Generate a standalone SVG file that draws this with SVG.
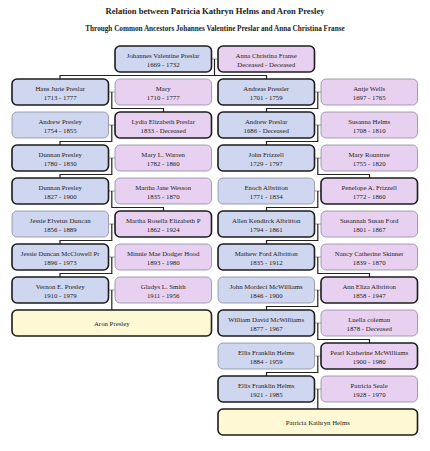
<svg xmlns="http://www.w3.org/2000/svg" width="430" height="451" viewBox="0 0 430 451">
<style>
text{font-family:"Liberation Serif","Times New Roman",serif;fill:#222;text-anchor:middle}
.h1{font-size:8.6px;font-weight:bold}
.h2{font-size:7.2px;font-weight:bold}
.n{font-size:6.8px}
.bl{fill:#cfd6f0}
.pk{fill:#e8d1f0}
.ye{fill:#fef9d4}
.k{stroke:#1c1c1c;stroke-width:1.6}
.g{stroke:#8c8c9c;stroke-width:0.8}
.cl{fill:none;stroke:#9a9a9a;stroke-width:1}
.dl{fill:none;stroke:#222;stroke-width:1.2}
</style>
<rect width="430" height="451" fill="#fff"/>
<text class="h1" x="215" y="14">Relation between Patricia Kathryn Helms and Aron Presley</text>
<text class="h2" x="215" y="31">Through Common Ancestors Johannes Valentine Preslar and Anna Christina Franse</text>

<g id="connectors">
<path class="cl" d="M211.5 59H218"/>
<path class="dl" d="M214.5 59V75.5M60 79V75.5H266.5V79"/>
<path class="cl" d="M108.5 92H115M108.5 125H115M108.5 158H115M108.5 191H115M108.5 224H115M108.5 257H115M108.5 290H115"/>
<path class="dl" d="M111.8 92V108.5H163.5V112"/>
<path class="dl" d="M111.8 125V141.5H60V145"/>
<path class="dl" d="M111.8 158V174.5H60V178"/>
<path class="dl" d="M111.8 191V207.5H163.5V211"/>
<path class="dl" d="M111.8 224V240.5H60V244"/>
<path class="dl" d="M111.8 257V273.5H60V277"/>
<path class="dl" d="M111.8 290V310"/>
<path class="cl" d="M314.5 92H321M314.5 125H321M314.5 158H321M314.5 191H321M314.5 224H321M314.5 257H321M314.5 290H321M314.5 323H321M314.5 356H321M314.5 389H321"/>
<path class="dl" d="M317.8 92V108.5H266.5V112"/>
<path class="dl" d="M317.8 125V141.5H266.5V145"/>
<path class="dl" d="M317.8 158V174.5H369.5V178"/>
<path class="dl" d="M317.8 191V207.5H266.5V211"/>
<path class="dl" d="M317.8 224V240.5H266.5V244"/>
<path class="dl" d="M317.8 257V273.5H369.5V277"/>
<path class="dl" d="M317.8 290V306.5H266.5V310"/>
<path class="dl" d="M317.8 323V339.5H369.5V343"/>
<path class="dl" d="M317.8 356V372.5H266.5V376"/>
<path class="dl" d="M317.8 389V409"/>
</g>

<g id="johannes"><rect class="bl k" x="115" y="46" width="96.5" height="26" rx="5"/><text class="n" x="163.2" y="57.5">Johannes Valentine Preslar</text><text class="n" x="163.2" y="66.5">1669 - 1732</text></g>
<g id="anna"><rect class="pk k" x="218" y="46" width="96.5" height="26" rx="5"/><text class="n" x="266.2" y="57.5">Anna Christina Franse</text><text class="n" x="266.2" y="66.5">Deceased - Deceased</text></g>

<g id="hans"><rect class="bl k" x="12" y="79" width="96.5" height="26" rx="5"/><text class="n" x="60.2" y="90.5">Hans Jurie Preslar</text><text class="n" x="60.2" y="99.5">1713 - 1777</text></g>
<g id="mary"><rect class="pk g" x="115" y="79" width="96.5" height="26" rx="5"/><text class="n" x="163.2" y="90.5">Mary</text><text class="n" x="163.2" y="99.5">1710 - 1777</text></g>
<g id="andrew-presley"><rect class="bl g" x="12" y="112" width="96.5" height="26" rx="5"/><text class="n" x="60.2" y="123.5">Andrew Presley</text><text class="n" x="60.2" y="132.5">1754 - 1855</text></g>
<g id="lydia"><rect class="pk k" x="115" y="112" width="96.5" height="26" rx="5"/><text class="n" x="163.2" y="123.5">Lydia Elizabeth Preslar</text><text class="n" x="163.2" y="132.5">1833 - Deceased</text></g>
<g id="dunnan1"><rect class="bl k" x="12" y="145" width="96.5" height="26" rx="5"/><text class="n" x="60.2" y="156.5">Dunnan Presley</text><text class="n" x="60.2" y="165.5">1780 - 1830</text></g>
<g id="mary-warren"><rect class="pk g" x="115" y="145" width="96.5" height="26" rx="5"/><text class="n" x="163.2" y="156.5">Mary L. Warren</text><text class="n" x="163.2" y="165.5">1782 - 1860</text></g>
<g id="dunnan2"><rect class="bl k" x="12" y="178" width="96.5" height="26" rx="5"/><text class="n" x="60.2" y="189.5">Dunnan Presley</text><text class="n" x="60.2" y="198.5">1827 - 1900</text></g>
<g id="martha-wesson"><rect class="pk g" x="115" y="178" width="96.5" height="26" rx="5"/><text class="n" x="163.2" y="189.5">Martha Jane Wesson</text><text class="n" x="163.2" y="198.5">1835 - 1870</text></g>
<g id="jessie-elvetus"><rect class="bl g" x="12" y="211" width="96.5" height="26" rx="5"/><text class="n" x="60.2" y="222.5">Jessie Elvetus Duncan</text><text class="n" x="60.2" y="231.5">1856 - 1889</text></g>
<g id="martha-rosella"><rect class="pk k" x="115" y="211" width="96.5" height="26" rx="5"/><text class="n" x="163.2" y="222.5">Martha Rosella Elizabeth P</text><text class="n" x="163.2" y="231.5">1862 - 1924</text></g>
<g id="jessie-duncan"><rect class="bl k" x="12" y="244" width="96.5" height="26" rx="5"/><text class="n" x="60.2" y="255.5">Jessie Duncan McClowell Pr</text><text class="n" x="60.2" y="264.5">1896 - 1973</text></g>
<g id="minnie"><rect class="pk g" x="115" y="244" width="96.5" height="26" rx="5"/><text class="n" x="163.2" y="255.5">Minnie Mae Dodger Hood</text><text class="n" x="163.2" y="264.5">1893 - 1980</text></g>
<g id="vernon"><rect class="bl k" x="12" y="277" width="96.5" height="26" rx="5"/><text class="n" x="60.2" y="288.5">Vernon E. Presley</text><text class="n" x="60.2" y="297.5">1910 - 1979</text></g>
<g id="gladys"><rect class="pk g" x="115" y="277" width="96.5" height="26" rx="5"/><text class="n" x="163.2" y="288.5">Gladys L. Smith</text><text class="n" x="163.2" y="297.5">1911 - 1956</text></g>
<g id="aron"><rect class="ye k" x="12" y="310" width="199.5" height="26" rx="5"/><text class="n" x="111.8" y="325.5">Aron Presley</text></g>

<g id="andreas"><rect class="bl k" x="218" y="79" width="96.5" height="26" rx="5"/><text class="n" x="266.2" y="90.5">Andreas Pressler</text><text class="n" x="266.2" y="99.5">1701 - 1759</text></g>
<g id="antje"><rect class="pk g" x="321" y="79" width="96.5" height="26" rx="5"/><text class="n" x="369.2" y="90.5">Antje Wells</text><text class="n" x="369.2" y="99.5">1697 - 1765</text></g>
<g id="andrew-preslar"><rect class="bl k" x="218" y="112" width="96.5" height="26" rx="5"/><text class="n" x="266.2" y="123.5">Andrew Preslar</text><text class="n" x="266.2" y="132.5">1686 - Deceased</text></g>
<g id="susanna"><rect class="pk g" x="321" y="112" width="96.5" height="26" rx="5"/><text class="n" x="369.2" y="123.5">Susanna Helms</text><text class="n" x="369.2" y="132.5">1708 - 1810</text></g>
<g id="john-frizzell"><rect class="bl k" x="218" y="145" width="96.5" height="26" rx="5"/><text class="n" x="266.2" y="156.5">John Frizzell</text><text class="n" x="266.2" y="165.5">1729 - 1797</text></g>
<g id="mary-rountree"><rect class="pk g" x="321" y="145" width="96.5" height="26" rx="5"/><text class="n" x="369.2" y="156.5">Mary Rountree</text><text class="n" x="369.2" y="165.5">1755 - 1820</text></g>
<g id="enoch"><rect class="bl g" x="218" y="178" width="96.5" height="26" rx="5"/><text class="n" x="266.2" y="189.5">Enoch Albritton</text><text class="n" x="266.2" y="198.5">1771 - 1834</text></g>
<g id="penelope"><rect class="pk k" x="321" y="178" width="96.5" height="26" rx="5"/><text class="n" x="369.2" y="189.5">Penelope A. Frizzell</text><text class="n" x="369.2" y="198.5">1772 - 1860</text></g>
<g id="allen"><rect class="bl k" x="218" y="211" width="96.5" height="26" rx="5"/><text class="n" x="266.2" y="222.5">Allen Kendirck Albritton</text><text class="n" x="266.2" y="231.5">1794 - 1861</text></g>
<g id="susannah"><rect class="pk g" x="321" y="211" width="96.5" height="26" rx="5"/><text class="n" x="369.2" y="222.5">Susannah Susan Ford</text><text class="n" x="369.2" y="231.5">1801 - 1867</text></g>
<g id="mathew"><rect class="bl k" x="218" y="244" width="96.5" height="26" rx="5"/><text class="n" x="266.2" y="255.5">Mathew Ford Albritton</text><text class="n" x="266.2" y="264.5">1835 - 1912</text></g>
<g id="nancy"><rect class="pk g" x="321" y="244" width="96.5" height="26" rx="5"/><text class="n" x="369.2" y="255.5">Nancy Catherine Skinner</text><text class="n" x="369.2" y="264.5">1839 - 1870</text></g>
<g id="john-mordeci"><rect class="bl g" x="218" y="277" width="96.5" height="26" rx="5"/><text class="n" x="266.2" y="288.5">John Mordeci McWilliams</text><text class="n" x="266.2" y="297.5">1846 - 1900</text></g>
<g id="ann-eliza"><rect class="pk k" x="321" y="277" width="96.5" height="26" rx="5"/><text class="n" x="369.2" y="288.5">Ann Eliza Albritton</text><text class="n" x="369.2" y="297.5">1858 - 1947</text></g>
<g id="william"><rect class="bl k" x="218" y="310" width="96.5" height="26" rx="5"/><text class="n" x="266.2" y="321.5">William David McWilliams</text><text class="n" x="266.2" y="330.5">1877 - 1967</text></g>
<g id="luella"><rect class="pk g" x="321" y="310" width="96.5" height="26" rx="5"/><text class="n" x="369.2" y="321.5">Luella coleman</text><text class="n" x="369.2" y="330.5">1878 - Deceased</text></g>
<g id="ellis1"><rect class="bl g" x="218" y="343" width="96.5" height="26" rx="5"/><text class="n" x="266.2" y="354.5">Ellis Franklin Helms</text><text class="n" x="266.2" y="363.5">1884 - 1959</text></g>
<g id="pearl"><rect class="pk k" x="321" y="343" width="96.5" height="26" rx="5"/><text class="n" x="369.2" y="354.5">Pearl Katherine McWilliams</text><text class="n" x="369.2" y="363.5">1900 - 1980</text></g>
<g id="ellis2"><rect class="bl k" x="218" y="376" width="96.5" height="26" rx="5"/><text class="n" x="266.2" y="387.5">Ellis Franklin Helms</text><text class="n" x="266.2" y="396.5">1921 - 1985</text></g>
<g id="patricia-seale"><rect class="pk g" x="321" y="376" width="96.5" height="26" rx="5"/><text class="n" x="369.2" y="387.5">Patricia Seale</text><text class="n" x="369.2" y="396.5">1928 - 1970</text></g>
<g id="patricia-kathryn"><rect class="ye k" x="218" y="409" width="199.5" height="26" rx="5"/><text class="n" x="317.8" y="424.5">Patricia Kathryn Helms</text></g>
</svg>
